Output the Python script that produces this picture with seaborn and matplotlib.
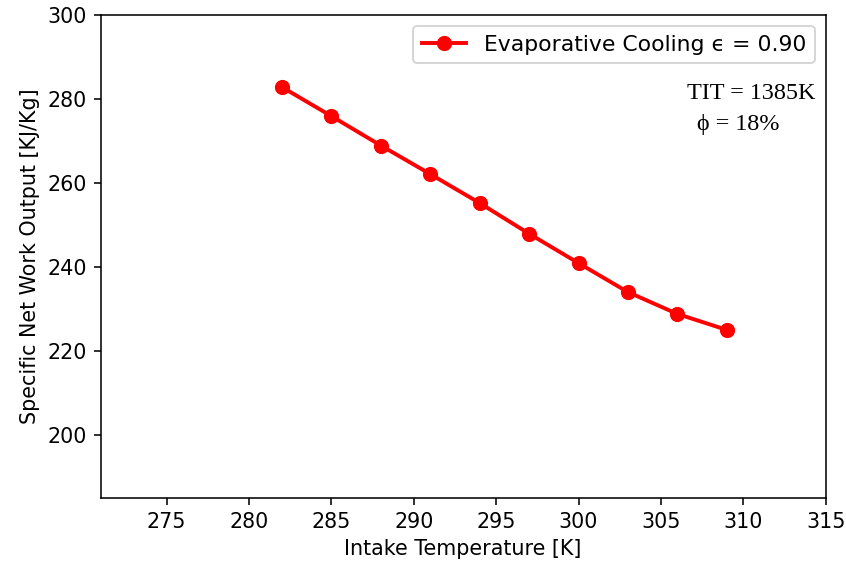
import numpy as np
import pandas as pd
import matplotlib
matplotlib.use('Agg')
import matplotlib.pyplot as plt
import seaborn as sns

# data
intake_temp = [282, 285, 288, 291, 294, 297, 300, 303, 306, 309]
net_work = [282.8, 275.9, 268.9, 262.1, 255.2, 247.9, 240.9, 234.0, 228.8, 225.0]
series_label = 'Evaporative Cooling \u03f5 = 0.90'
note_tit = 'TIT = 1385K'
note_phi = '\u03d5 = 18%'

df = pd.DataFrame({'T': intake_temp, 'W': net_work})

plt.rcParams['font.family'] = ['DejaVu Sans']
plt.rcParams['font.size'] = 10.5

fig, ax = plt.subplots(figsize=(6.0, 4.064), dpi=141)
fig.subplots_adjust(left=0.119, right=0.976, top=0.974, bottom=0.131)

sns.lineplot(data=df, x='T', y='W', ax=ax, color='red', linewidth=2,
             marker='o', markersize=7, markeredgecolor='red',
             label=series_label)

ax.set_xlim(271, 315)
ax.set_ylim(185, 300)
ax.set_xticks(np.arange(275, 316, 5))
ax.set_yticks(np.arange(200, 301, 20))
ax.set_xlabel('Intake Temperature [K]')
ax.set_ylabel('Specific Net Work Output [KJ/Kg]')

ax.legend(loc='upper right', fontsize=11.2)

serif = ['Liberation Serif', 'DejaVu Serif']
ax.text(306.6, 281.4, note_tit, family=serif, fontsize=12.3, va='center')
ax.text(307.2, 274.0, note_phi, family=serif, fontsize=12.3, va='center')

fig.savefig('out.png', dpi=141)
